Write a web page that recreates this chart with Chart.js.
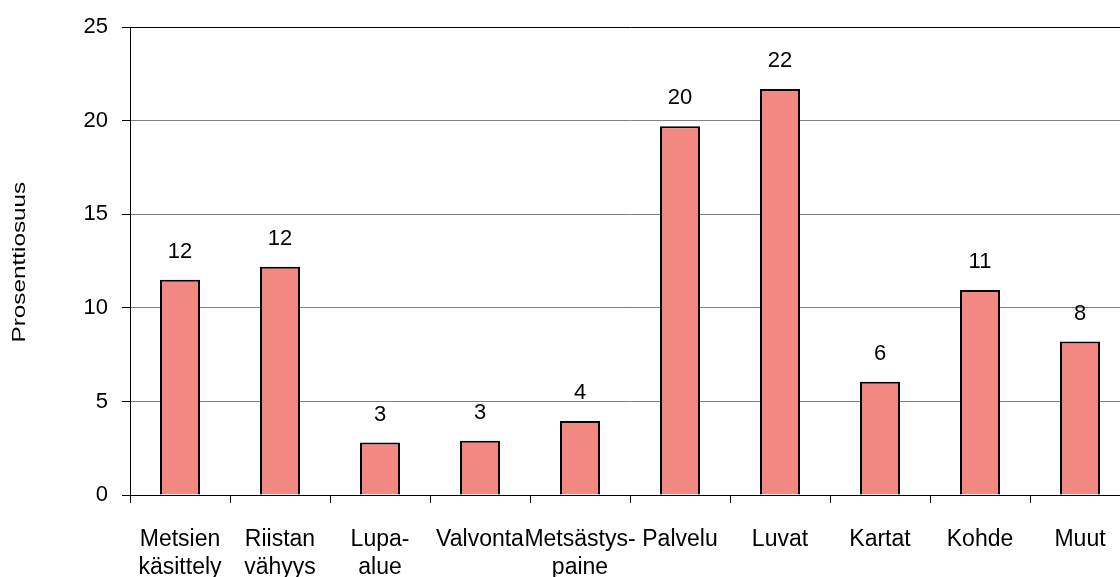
<!DOCTYPE html>
<html>
<head>
<meta charset="utf-8">
<script src="https://cdn.jsdelivr.net/npm/chart.js@4/dist/chart.umd.min.js"></script>
<style>
  html, body { margin: 0; padding: 0; background: #fff; overflow: hidden; }
  #wrap { width: 1135px; height: 577px; position: relative; }
</style>
</head>
<body>
<div id="wrap"><canvas id="barChart"></canvas></div>
<script>
// Chart data
const categories = [
    ['Metsien', 'käsittely'], ['Riistan', 'vähyys'], ['Lupa-', 'alue'], 'Valvonta',
    ['Metsästys-', 'paine'], 'Palvelu', 'Luvat', 'Kartat', 'Kohde', 'Muut'
];
const shares = [11.5, 12.2, 2.8, 2.9, 3.95, 19.7, 21.7, 6.05, 10.95, 8.2];
const yTicks = [0, 5, 10, 15, 20, 25];
const yTitle = 'Prosenttiosuus';

const fontFamily = '"Liberation Sans", Arial, sans-serif';

// Value labels above the bars
const valueLabels = {
    id: 'valueLabels',
    afterDatasetsDraw(chart) {
        const ctx = chart.ctx;
        const meta = chart.getDatasetMeta(0);
        ctx.save();
        ctx.font = '22px ' + fontFamily;
        ctx.fillStyle = '#000';
        ctx.textAlign = 'center';
        ctx.textBaseline = 'middle';
        meta.data.forEach((bar, i) => {
            ctx.fillText(String(Math.round(shares[i])), bar.x, bar.y - 28);
        });
        ctx.restore();
    }
};

// Axis title, drawn a bit wider than normal like the original
const axisTitle = {
    id: 'axisTitle',
    afterDraw(chart) {
        const ctx = chart.ctx;
        const area = chart.chartArea;
        ctx.save();
        ctx.translate(20, (area.top + area.bottom) / 2 + 1);
        ctx.rotate(-Math.PI / 2);
        ctx.scale(1.35, 1);
        ctx.font = '18px ' + fontFamily;
        ctx.fillStyle = '#000';
        ctx.textAlign = 'center';
        ctx.textBaseline = 'middle';
        ctx.fillText(yTitle, 0, 0);
        ctx.restore();
    }
};

new Chart(document.getElementById('barChart'), {
    type: 'bar',
    data: {
        labels: categories,
        datasets: [{
            data: shares,
            backgroundColor: '#f28882',
            borderColor: '#000',
            borderWidth: 2,
            barPercentage: 0.4,
            categoryPercentage: 1.0
        }]
    },
    options: {
        responsive: true,
        maintainAspectRatio: false,
        animation: false,
        layout: { padding: { top: 24, right: 5, left: 0, bottom: 0 } },
        plugins: {
            legend: { display: false },
            tooltip: { enabled: false }
        },
        scales: {
            y: {
                min: 0,
                max: 25,
                afterBuildTicks: scale => { scale.ticks = yTicks.map(v => ({ value: v })); },
                afterFit: scale => { scale.width = 130; },
                border: { display: true, color: '#000', width: 1 },
                grid: {
                    color: c => (c.tick && (c.tick.value === 25 || c.tick.value === 0)) ? '#000' : '#808080',
                    tickColor: '#000',
                    tickLength: 8,
                    lineWidth: 1
                },
                ticks: {
                    color: '#000',
                    padding: 14,
                    font: { family: fontFamily, size: 22 }
                }
            },
            x: {
                afterFit: scale => { scale.height = 82; },
                border: { display: true, color: '#000', width: 1 },
                grid: {
                    offset: true,
                    drawOnChartArea: false,
                    drawTicks: true,
                    tickLength: 8,
                    color: '#000'
                },
                ticks: {
                    color: '#000',
                    maxRotation: 0,
                    autoSkip: false,
                    padding: 23,
                    font: { family: fontFamily, size: 23, lineHeight: 1.2 }
                }
            }
        }
    },
    plugins: [valueLabels, axisTitle]
});
</script>
</body>
</html>
